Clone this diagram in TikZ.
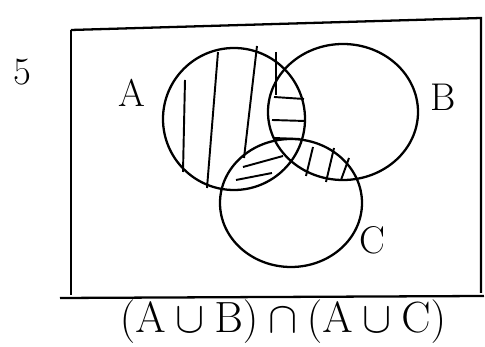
\documentclass[tikz,border=0pt]{standalone}
\usetikzlibrary{positioning}
\begin{document}
\begin{tikzpicture}[x=0.02cm,y=-0.02cm,
  pen/.style={line width=1.3pt,black},
  hatch/.style={line width=1.1pt,black},
  lbl/.style={font=\fontsize{22}{26}\selectfont}]
\useasboundingbox (0,0) rectangle (485,347);
% universe
\draw[pen] (71,30) -- (71,295);
\draw[pen] (71,30) -- (481,18) -- (481,293);
\draw[pen] (60,298) -- (484,296);
% the three sets
\draw[pen] (234,119) ellipse [x radius=71, y radius=71];
\draw[pen] (343,112) ellipse [x radius=75, y radius=68];
\draw[pen] (291,203) ellipse [x radius=71, y radius=64];
% vertical hatching in A
\draw[hatch] (185,80) -- (183,172);
\draw[hatch] (218,52) -- (207,188);
\draw[hatch] (257,46) -- (244,158);
\draw[hatch] (276,52) -- (276,95);
% horizontal hatching in A and B
\draw[hatch] (274,97) -- (304,99);
\draw[hatch] (272,120) -- (305,121);
\draw[hatch] (274,138) -- (300,139);
% A and C
\draw[hatch] (243,167) -- (283,156);
\draw[hatch] (236,180) -- (272,173);
% B and C
\draw[hatch] (306,176) -- (313,147);
\draw[hatch] (326,182) -- (334,148);
\draw[hatch] (341,180) -- (349,158);
% labels
\node[lbl] (five) at (22,72) {5};
\node[lbl] (labA) at (132,93) {A};
\node[lbl] (labB) at (443,97) {B};
\node[lbl] (labC) at (372,240) {C};
\node[font=\fontsize{27}{31}\selectfont] (expr) at (283,322) {$(\mathrm{A}\cup \mathrm{B})\cap(\mathrm{A}\cup \mathrm{C})$};
\end{tikzpicture}
\end{document}
